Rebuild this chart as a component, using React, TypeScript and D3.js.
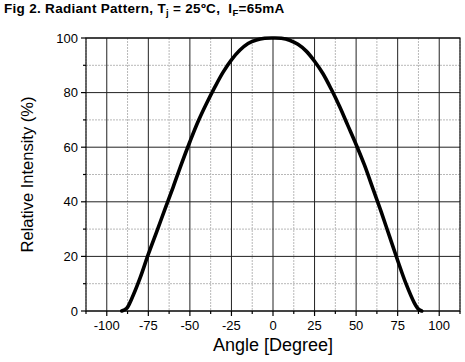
import React from "react";
import * as d3 from "d3";

const angles = [-91, -88, -85, -80, -75, -70, -65, -60, -55, -50, -45, -40, -35, -30, -25, -20, -15, -10, -5, 0, 5, 10, 15, 20, 25, 30, 35, 40, 45, 50, 55, 60, 65, 70, 75, 80, 85, 87.5, 89.5];
const intensity = [0, 1, 4.5, 12, 20.8, 29, 37.3, 45.5, 54, 62, 69.5, 76, 82, 87.5, 92, 95.5, 98, 99.3, 99.9, 100, 99.9, 99.2, 97.7, 95.2, 91.5, 87, 81.3, 75, 68, 61, 53.5, 45, 36.5, 27.5, 18.5, 10, 3, 0.7, 0];

const xMajorTicks = [-100, -75, -50, -25, 0, 25, 50, 75, 100];
const xMinorTicks = [-112.5, -87.5, -62.5, -37.5, -12.5, 12.5, 37.5, 62.5, 87.5, 112.5];
const yMajorTicks = [0, 20, 40, 60, 80, 100];
const yMinorTicks = [10, 30, 50, 70, 90];

const W = 465, H = 362;
const L = 86, R = 460, T = 38, B = 311;
const FONT = "'Liberation Sans', Arial, Helvetica, sans-serif";

export default function App() {
  const x = d3.scaleLinear().domain([-112.5, 112.5]).range([L, R]);
  const y = d3.scaleLinear().domain([0, 100]).range([B, T]);
  const pts: [number, number][] = angles.map((a, i) => [a, intensity[i]]);
  const line = d3.line<[number, number]>().x(d => x(d[0])).y(d => y(d[1])).curve(d3.curveCatmullRom.alpha(0.5));

  return (
    <svg width={W} height={H} style={{ position: "absolute", left: 0, top: 0, background: "#fff" }} fontFamily={FONT}>
      <rect x={0} y={0} width={W} height={H} fill="#fff" />
      <text x={4} y={13} fontSize={13.5} fontWeight="bold" fill="#000" letterSpacing={0.3} style={{ whiteSpace: "pre" }}>
        {"Fig 2. Radiant Pattern, T"}<tspan fontSize={9.5} dy={2.5}>j</tspan>
        <tspan dy={-2.5}>{" = 25ºC,  I"}</tspan>
        <tspan fontSize={9.5} dy={2.5}>F</tspan>
        <tspan dy={-2.5}>=65mA</tspan>
      </text>

      {/* minor grid */}
      {xMinorTicks.map(t => (
        <line key={"xm" + t} x1={x(t)} x2={x(t)} y1={T} y2={B} stroke="#b8b8b8" strokeWidth={1} strokeDasharray="2,1" />
      ))}
      {yMinorTicks.map(t => (
        <line key={"ym" + t} x1={L} x2={R} y1={y(t)} y2={y(t)} stroke="#b8b8b8" strokeWidth={1} strokeDasharray="2,1" />
      ))}
      {/* major grid */}
      {xMajorTicks.map(t => (
        <line key={"xg" + t} x1={x(t)} x2={x(t)} y1={T} y2={B} stroke="#222" strokeWidth={1} />
      ))}
      {yMajorTicks.map(t => (
        <line key={"yg" + t} x1={L} x2={R} y1={y(t)} y2={y(t)} stroke="#222" strokeWidth={1} />
      ))}

      {/* frame */}
      <rect x={L} y={T} width={R - L} height={B - T} fill="none" stroke="#111" strokeWidth={1.2} />

      {/* ticks */}
      {xMajorTicks.map(t => (
        <line key={"xt" + t} x1={x(t)} x2={x(t)} y1={B} y2={B + 5} stroke="#000" strokeWidth={1.2} />
      ))}
      {xMinorTicks.map(t => (
        <line key={"xmt" + t} x1={x(t)} x2={x(t)} y1={B} y2={B + 3} stroke="#000" strokeWidth={1.2} />
      ))}
      {yMajorTicks.map(t => (
        <line key={"yt" + t} x1={L - 5} x2={L} y1={y(t)} y2={y(t)} stroke="#000" strokeWidth={1.2} />
      ))}
      {yMinorTicks.map(t => (
        <line key={"ymt" + t} x1={L - 3} x2={L} y1={y(t)} y2={y(t)} stroke="#000" strokeWidth={1.2} />
      ))}

      {/* labels */}
      {xMajorTicks.map(t => (
        <text key={"xl" + t} x={x(t)} y={330} fontSize={13} textAnchor="middle" fill="#000">{t}</text>
      ))}
      {yMajorTicks.map(t => (
        <text key={"yl" + t} x={78} y={y(t) + 4.5} fontSize={13} textAnchor="end" fill="#000">{t}</text>
      ))}

      <text x={x(0)} y={351} fontSize={18} textAnchor="middle" fill="#000">Angle [Degree]</text>
      <text transform={`translate(33,${(T + B) / 2}) rotate(-90)`} fontSize={16.5} textAnchor="middle" fill="#000">Relative Intensity (%)</text>

      {/* curve */}
      <path d={line(pts) || ""} fill="none" stroke="#000" strokeWidth={3.6} strokeLinejoin="round" strokeLinecap="round" />
    </svg>
  );
}
